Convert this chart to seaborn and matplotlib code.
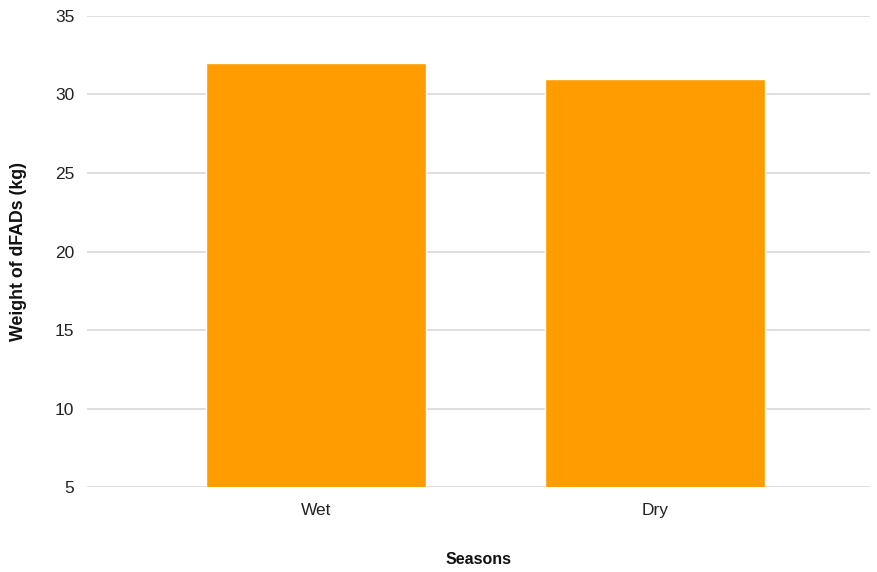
import matplotlib
matplotlib.use("Agg")
import matplotlib.pyplot as plt
import seaborn as sns
import pandas as pd

# chart data
seasons = ["Wet", "Dry"]
weights = [32, 31]

df = pd.DataFrame({"season": seasons, "weight": weights})

sns.set_style("white")
plt.rcParams["font.family"] = ["Liberation Sans", "DejaVu Sans"]

fig = plt.figure(figsize=(8.77, 5.72), dpi=100)
ax = fig.add_axes([0.0992, 0.148, 0.893, 0.8246])

sns.barplot(data=df, x="season", y="weight", color="#ff9c00",
            saturation=1, width=0.649, ax=ax, zorder=3)

ax.set_ylim(5, 35)
ax.set_yticks(range(5, 36, 5))
ax.set_xlim(-0.675, 1.634)
ax.grid(True, axis="y", color="#d9d9d9", linewidth=1.2, zorder=0)
ax.set_axisbelow(True)
for s in ax.spines.values():
    s.set_visible(False)
ax.tick_params(axis="both", length=0, labelsize=12.5, colors="#222222")
ax.tick_params(axis="y", pad=9)
ax.tick_params(axis="x", pad=11)

ax.set_xlabel("Seasons", fontsize=11.5, fontweight="bold", color="#111111", labelpad=25)
ax.set_ylabel("Weight of dFADs (kg)", fontsize=12.8, fontweight="bold", color="#111111", labelpad=20)

fig.savefig("out.png", dpi=100)
